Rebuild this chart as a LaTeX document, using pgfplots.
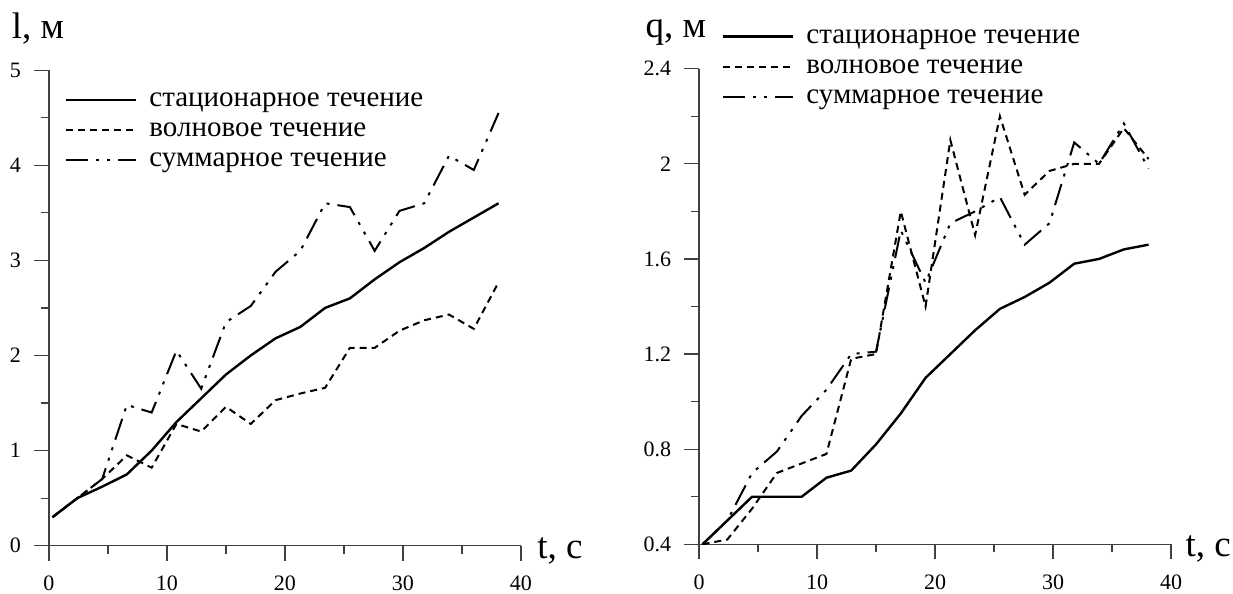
\documentclass[border=0pt]{standalone}
\usepackage{fontspec}
\setmainfont{Liberation Serif}
\usepackage{pgfplots}
\pgfplotsset{compat=1.18}
\usepackage{pgfplotstable}

\pgfplotstableread{
t    st    wv    sm
0.3  0.30  0.30  0.30
2.4  0.50  0.50  0.50
4.5  0.62  0.70  0.70
6.6  0.75  0.95  1.48
8.7  1.00  0.82  1.40
10.8 1.30  1.28  2.05
12.9 1.55  1.20  1.65
15.0 1.80  1.46  2.35
17.1 2.00  1.28  2.52
19.2 2.18  1.53  2.88
21.3 2.30  1.60  3.10
23.4 2.50  1.66  3.60
25.5 2.60  2.08  3.56
27.6 2.80  2.08  3.10
29.7 2.98  2.26  3.52
31.8 3.13  2.37  3.60
33.9 3.30  2.43  4.10
36.0 3.45  2.28  3.95
38.1 3.60  2.77  4.55
}\ldata

\pgfplotstableread{
t    st    wv    sm
0.3  0.40  0.40  0.40
2.4  0.50  0.42  0.50
4.5  0.60  0.55  0.70
6.6  0.60  0.70  0.79
8.7  0.60  0.74  0.94
10.8 0.68  0.78  1.05
12.9 0.71  1.18  1.20
15.0 0.82  1.20  1.21
17.1 0.95  1.80  1.72
19.2 1.10  1.40  1.50
21.3 1.20  2.10  1.75
23.4 1.30  1.70  1.80
25.5 1.39  2.20  1.86
27.6 1.44  1.87  1.66
29.7 1.50  1.97  1.75
31.8 1.58  2.00  2.09
33.9 1.60  2.00  2.00
36.0 1.64  2.15  2.17
38.1 1.66  2.02  1.98
}\rdata

\pgfplotsset{
  myaxis/.style={
    scale only axis, width=236pt, height=237.8pt,
    axis x line*=bottom, axis y line*=left,
    axis line style={black!75, line width=0.6pt},
    xmin=0, xmax=40, xtick={0,10,20,30,40}, minor xtick={5,15,25,35},
    tick align=outside,
    major tick length=7.5pt, minor tick length=4pt,
    every tick/.style={black!75, line width=0.6pt},
    /pgf/number format/assume math mode=true,
    xticklabel={\pgfmathprintnumber{\tick}},
    yticklabel={\pgfmathprintnumber{\tick}},
    xticklabel style={font=\fontsize{11}{13}\selectfont, anchor=north, inner sep=0pt, yshift=-7.5pt},
    yticklabel style={font=\fontsize{11}{13}\selectfont, anchor=east, inner sep=0pt, xshift=-6.3pt},
    legend cell align=left,
    legend style={draw=none, fill=none, inner sep=0pt, outer sep=0pt,
      font=\fontsize{14.5}{15}\selectfont, anchor=north west, row sep=0pt,
      nodes={inner sep=1pt, text height=10pt, text depth=3pt},
      /tikz/every odd column/.append style={column sep=5pt}},
    legend image code/.code={\draw[##1] (0pt,0pt) -- (35pt,0pt);},
    xlabel={t, с},
    xlabel style={font=\fontsize{18.5}{20}\selectfont, anchor=base west, inner sep=0pt},
    ylabel style={font=\fontsize{18.5}{20}\selectfont, rotate=-90, anchor=base west, inner sep=0pt},
  },
  st/.style={black, line width=1.2pt},
  wv/.style={black, line width=1pt, dash pattern=on 3.5pt off 2.5pt},
  sm/.style={black, line width=1pt, dash pattern=on 11pt off 4pt on 1.5pt off 4pt on 1.5pt off 4pt},
}

\begin{document}
\begin{tikzpicture}
\useasboundingbox (-24.5pt,-24.15pt) rectangle (592pt,272.85pt);
\begin{axis}[myaxis, at={(0pt,0pt)}, anchor=south west,
  ymin=0, ymax=5, ytick={0,1,2,3,4,5}, minor ytick={0.5,1.5,2.5,3.5,4.5},
  ylabel={l, м},
  xlabel style={at={(axis description cs:1.034,-0.027)}},
  ylabel style={at={(axis description cs:-0.0795,1.067)}},
  legend style={at={(axis description cs:0.034,0.969)}},
]
\addplot[st] table[x=t,y=st]{\ldata};
\addplot[wv] table[x=t,y=wv]{\ldata};
\addplot[sm] table[x=t,y=sm]{\ldata};
\legend{стационарное течение, волновое течение, суммарное течение}
\end{axis}
\begin{axis}[myaxis, at={(325pt,0.7pt)}, anchor=south west,
  ymin=0.4, ymax=2.4, ytick={0.4,0.8,1.2,1.6,2,2.4}, minor ytick={0.6,1.0,1.4,1.8,2.2},
  ylabel={q, м},
  xlabel style={at={(axis description cs:1.03,-0.025)}},
  ylabel style={at={(axis description cs:-0.114,1.065)}},
  legend style={at={(axis description cs:0.0487,1.099)}},
]
\addplot[st] table[x=t,y=st]{\rdata};
\addplot[wv] table[x=t,y=wv]{\rdata};
\addplot[sm] table[x=t,y=sm]{\rdata};
\legend{стационарное течение, волновое течение, суммарное течение}
\end{axis}
\end{tikzpicture}
\end{document}
